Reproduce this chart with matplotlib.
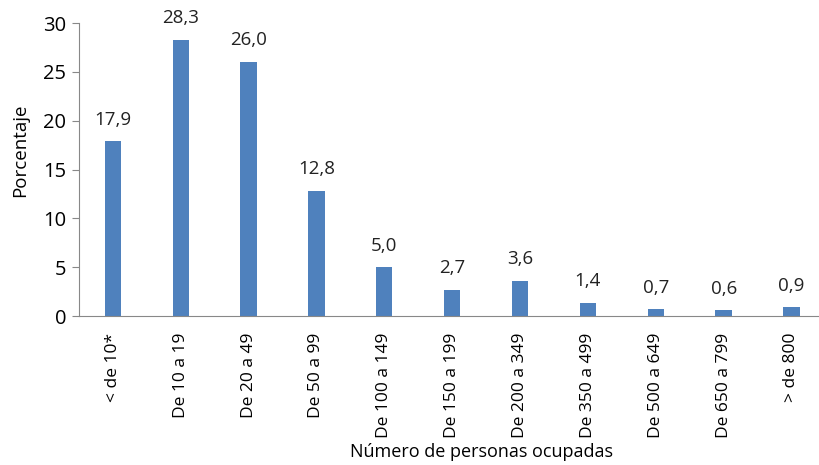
import matplotlib.pyplot as plt

# datos
categorias = ['< de 10*', 'De 10 a 19', 'De 20 a 49', 'De 50 a 99', 'De 100 a 149',
              'De 150 a 199', 'De 200 a 349', 'De 350 a 499', 'De 500 a 649',
              'De 650 a 799', '> de 800']
porcentajes = [17.9, 28.3, 26.0, 12.8, 5.0, 2.7, 3.6, 1.4, 0.7, 0.6, 0.9]

plt.rcParams['font.family'] = ['Open Sans', 'DejaVu Sans']

fig = plt.figure(figsize=(8.2, 4.65), dpi=100)
ax = fig.add_axes([0.0963, 0.320, 0.9037, 0.6305])

x = range(len(categorias))
ax.bar(x, porcentajes, width=0.24, color='#4F81BD')

for xi, v in zip(x, porcentajes):
    ax.text(xi, v + 1.3, f'{v:.1f}'.replace('.', ','), ha='center', va='bottom',
            fontsize=13.5, color='#222222')

ax.set_xlim(-0.5, 10.42)
ax.set_ylim(0, 30)
ax.set_yticks(range(0, 31, 5))
ax.set_xticks(list(x))
ax.set_xticklabels(categorias, rotation=90, fontsize=12.5)
ax.tick_params(axis='x', length=0, pad=12)
ax.tick_params(axis='y', length=5, color='#888888', labelsize=14.5, pad=4)

for s in ['top', 'right']:
    ax.spines[s].set_visible(False)
for s in ['left', 'bottom']:
    ax.spines[s].set_color('#888888')

fig.text(0.587, 0.008, 'Número de personas ocupadas', ha='center', va='bottom', fontsize=13)
fig.text(0.024, 0.677, 'Porcentaje', rotation=90, ha='center', va='center', fontsize=13.5)

plt.savefig('out.png', dpi=100)
